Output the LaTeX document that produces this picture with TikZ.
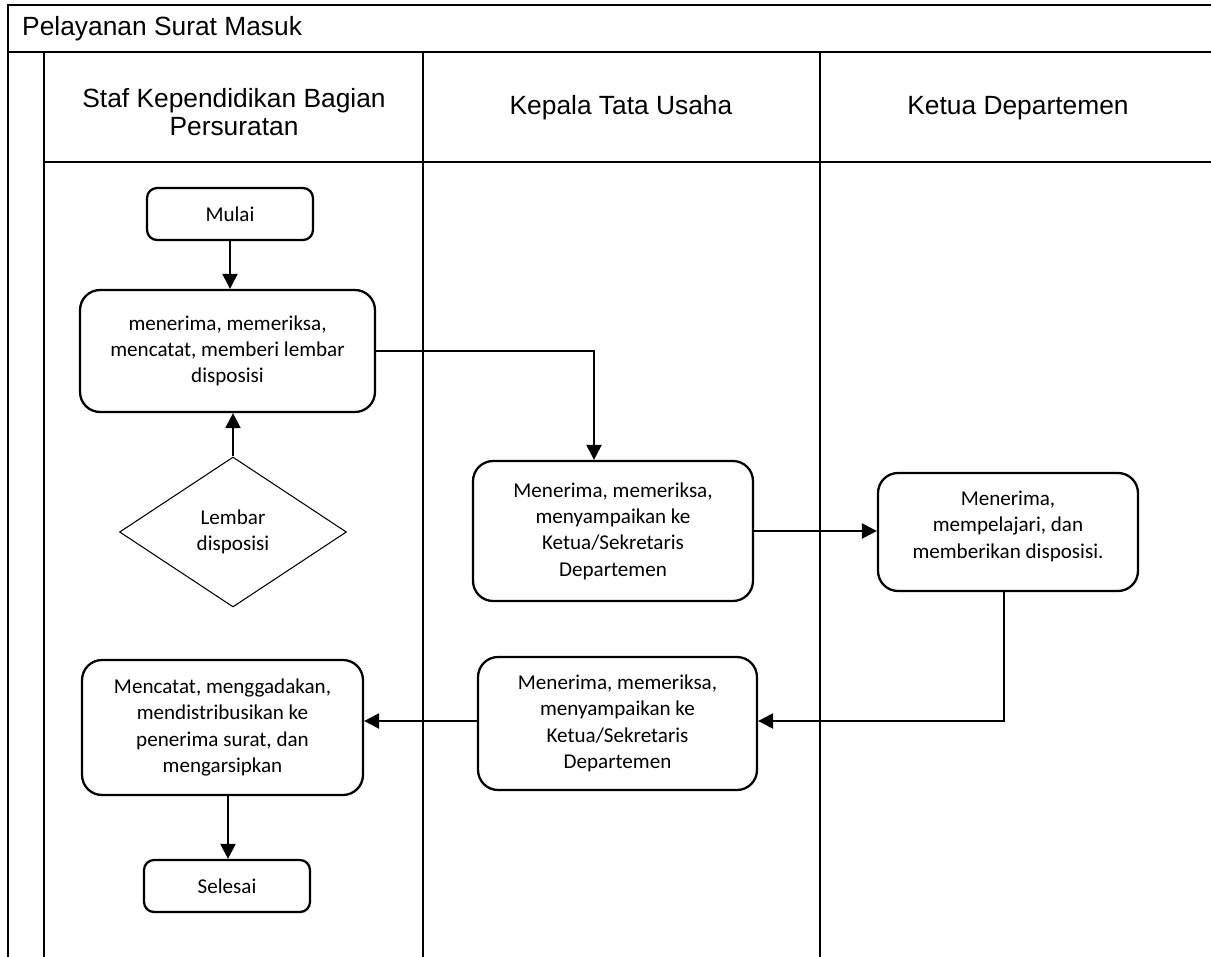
\documentclass[tikz,border=0pt]{standalone}
\usepackage{fontspec}
\setmainfont{Carlito}
\newfontfamily\headfont{Liberation Sans}
\usetikzlibrary{shapes.geometric, arrows.meta, positioning}
\definecolor{linedark}{RGB}{0, 0, 0}

\begin{document}
\begin{tikzpicture}[
    x=0.02cm, y=-0.02cm,
    lane/.style={draw=linedark, line width=1.1pt},
    proses/.style={rectangle, draw=linedark, rounded corners=0.4cm, minimum width=5.6cm, minimum height=2.7cm, align=center, font=\fontsize{12}{15}\selectfont, line width=1.3pt, inner sep=2pt},
    terminal/.style={proses, rounded corners=0.2cm, minimum width=3.32cm, minimum height=1.04cm},
    dokumen/.style={diamond, draw=linedark, aspect=1.5, minimum width=4.54cm, minimum height=3cm, align=center, font=\fontsize{12}{15}\selectfont, line width=0.6pt, inner sep=0pt},
    judul/.style={font=\headfont\fontsize{15}{15.5}\selectfont, align=center, color=linedark},
    arrow/.style={-{Triangle[length=0.3cm, width=0.3cm]}, line width=1.3pt, color=linedark},
]
\useasboundingbox (0,0) rectangle (1211,957);

% Swimlane frame
\draw[lane] (1211,5) -- (8,5) -- (8,957);
\draw[lane] (8,52) -- (1211,52);
\draw[lane] (44,52) -- (44,957);
\draw[lane] (44,162) -- (1211,162);
\draw[lane] (423,52) -- (423,957);
\draw[lane] (820,52) -- (820,957);

% Titles
\node[judul, anchor=west] (proses) at (16,29) {Pelayanan Surat Masuk};
\node[judul] (staf) at (234,112) {Staf Kependidikan Bagian\\Persuratan};
\node[judul] (kepala) at (621,108) {Kepala Tata Usaha};
\node[judul] (ketua) at (1018,108) {Ketua Departemen};

% Staf Persuratan
\node[terminal] (mulai) at (230,214) {Mulai};
\node[proses, minimum width=5.9cm, minimum height=2.44cm] (catat) at (227.5,351) {menerima, memeriksa,\\mencatat, memberi lembar\\disposisi};
\node[dokumen] (lembar) at (233,532) {Lembar\\disposisi};
\node[proses, minimum width=5.62cm, minimum height=2.7cm] (arsip) at (222.5,727.5) {Mencatat, menggadakan,\\mendistribusikan ke\\penerima surat, dan\\mengarsipkan};
\node[terminal] (selesai) at (227,886) {Selesai};

% Kepala Tata Usaha
\node[proses, minimum width=5.6cm, minimum height=2.8cm] (periksa) at (613,531) {Menerima, memeriksa,\\menyampaikan ke\\Ketua/Sekretaris\\Departemen};
\node[proses, minimum width=5.58cm, minimum height=2.66cm] (teruskan) at (617.5,723.5) {Menerima, memeriksa,\\menyampaikan ke\\Ketua/Sekretaris\\Departemen};

% Ketua Departemen
\node[proses, minimum width=5.2cm, minimum height=2.36cm] (pelajari) at (1008,532) {Menerima,\\mempelajari, dan\\memberikan disposisi.\\[-6.5pt]};

% Arrows
\draw[arrow] (mulai) -- (mulai |- catat.north);
\draw[arrow] (lembar.north) -- (lembar.north |- catat.south);
\draw[arrow] (catat.east) -| ([xshift=-0.38cm]periksa.north);
\draw[arrow] (periksa.east) -- (periksa.east -| pelajari.west);
\draw[arrow] ([xshift=-0.08cm]pelajari.south) |- ([yshift=0.05cm]teruskan.east);
\draw[arrow] ([yshift=0.05cm]teruskan.west) -- ([yshift=0.05cm]teruskan.west -| arsip.east);
\draw[arrow] ([xshift=0.11cm]arsip.south) -- ([xshift=0.11cm]arsip.south |- selesai.north);

\end{tikzpicture}
\end{document}
